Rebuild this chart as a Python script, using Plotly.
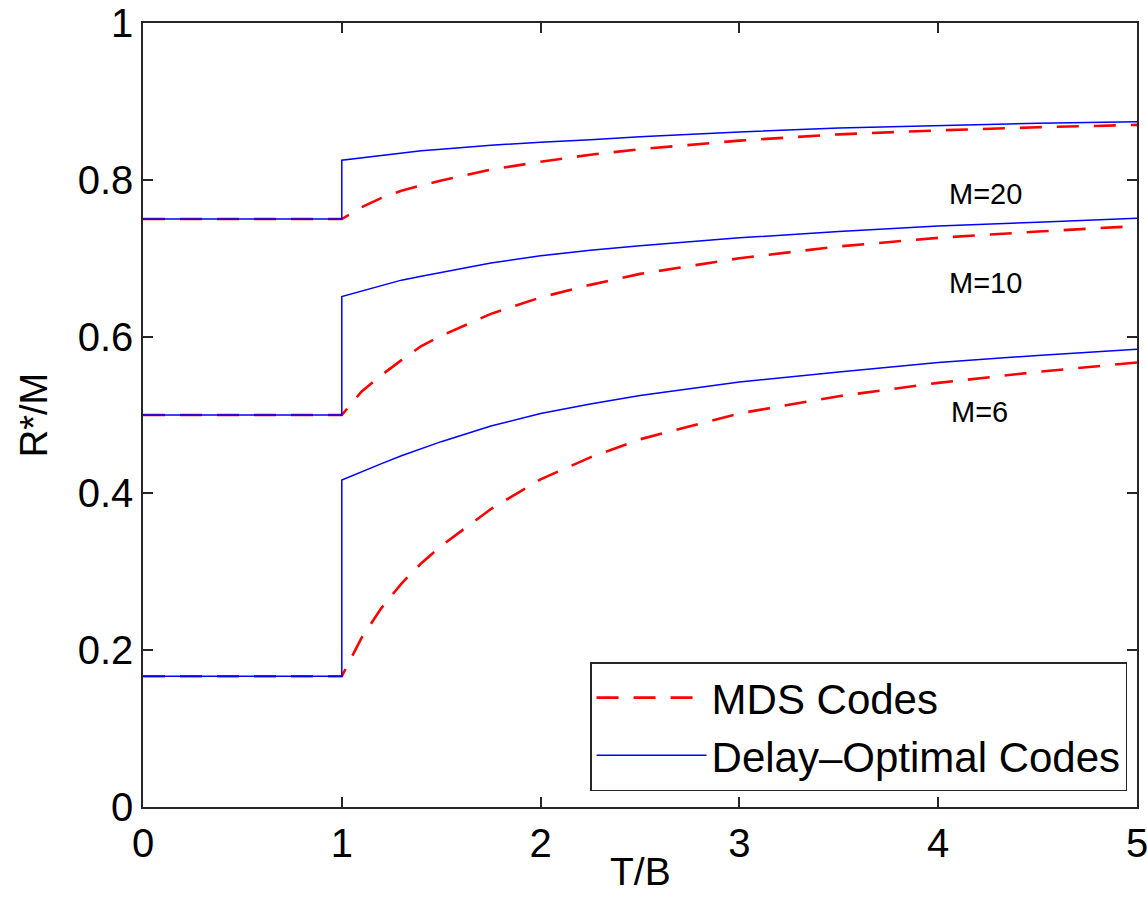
import plotly.graph_objects as go

# x grid (T/B) for the curved region, x>=1
x_curve = [1, 1.1, 1.2, 1.3, 1.4, 1.5, 1.75, 2, 2.25, 2.5, 3, 3.5, 4, 4.5, 5]
x_flat = [0, 1]

# flat values for T/B < 1
flat_m20 = 0.75
flat_m10 = 0.5
flat_m6 = 0.1667

# MDS codes
mds_m20 = [0.750, 0.765, 0.777, 0.786, 0.793, 0.799, 0.813, 0.823, 0.832, 0.839, 0.850, 0.858, 0.863, 0.867, 0.870]
mds_m10 = [0.500, 0.530, 0.551, 0.570, 0.588, 0.601, 0.629, 0.650, 0.666, 0.680, 0.700, 0.715, 0.726, 0.734, 0.741]
mds_m6 = [0.167, 0.216, 0.254, 0.285, 0.311, 0.333, 0.380, 0.418, 0.446, 0.469, 0.502, 0.524, 0.541, 0.555, 0.567]

# Delay-optimal codes
opt_m20 = [0.825, 0.828, 0.831, 0.834, 0.837, 0.839, 0.844, 0.848, 0.851, 0.855, 0.861, 0.866, 0.869, 0.872, 0.874]
opt_m10 = [0.651, 0.658, 0.665, 0.672, 0.677, 0.682, 0.694, 0.703, 0.710, 0.716, 0.726, 0.734, 0.741, 0.746, 0.751]
opt_m6 = [0.417, 0.428, 0.438, 0.448, 0.457, 0.466, 0.486, 0.502, 0.514, 0.525, 0.542, 0.555, 0.567, 0.576, 0.584]

labels = ["M=20", "M=10", "M=6"]
label_x = [4.24, 4.24, 4.21]
label_y = [0.782, 0.668, 0.504]

FONT = "Liberation Sans, Arial, Helvetica, sans-serif"
RED = "#ff0000"
BLUE = "#0000ff"

fig = go.Figure()

flats = [flat_m20, flat_m10, flat_m6]
mds = [mds_m20, mds_m10, mds_m6]
opt = [opt_m20, opt_m10, opt_m6]

for i, (f, m) in enumerate(zip(flats, mds)):
    fig.add_trace(go.Scatter(
        x=x_flat + x_curve[1:], y=[f, f] + m[1:],
        mode="lines", name="MDS Codes", legendgroup="mds",
        showlegend=(i == 0),
        line=dict(color=RED, width=2.6, dash="22px,15px"),
    ))

for i, (f, o) in enumerate(zip(flats, opt)):
    fig.add_trace(go.Scatter(
        x=x_flat + x_curve, y=[f, f] + o,
        mode="lines", name="Delay\u2013Optimal Codes", legendgroup="opt",
        showlegend=(i == 0),
        line=dict(color=BLUE, width=1.5),
    ))

for t, lx, ly in zip(labels, label_x, label_y):
    fig.add_annotation(x=lx, y=ly, text=t, showarrow=False,
                       font=dict(family=FONT, size=29, color="black"))

# x-axis title placed just under the tick labels
fig.add_annotation(x=0.5, xref="paper", y=0, yref="paper", yanchor="middle",
                   yshift=-64, text="T/B", showarrow=False,
                   font=dict(family=FONT, size=39, color="black"))

axis_common = dict(
    showline=True, linecolor="#262626", linewidth=1.5, mirror="ticks",
    ticks="inside", ticklen=10, tickwidth=1.5, tickcolor="#262626",
    showgrid=False, zeroline=False, automargin=False,
    ticklabeloverflow="allow",
    tickfont=dict(family=FONT, size=40, color="black"),
)

fig.update_layout(
    width=1147, height=905,
    margin=dict(l=143, r=10, t=23, b=98),
    paper_bgcolor="white", plot_bgcolor="white",
    font=dict(family=FONT, color="black"),
    xaxis=dict(range=[0, 5], tickvals=[0, 1, 2, 3, 4, 5], **axis_common),
    yaxis=dict(range=[0, 1], tickvals=[0, 0.2, 0.4, 0.6, 0.8, 1],
               ticktext=["0", "0.2", "0.4", "0.6", "0.8", "1"],
               title=dict(text="R*/M", font=dict(family=FONT, size=38), standoff=18),
               **axis_common),
    legend=dict(
        x=0.99, y=0.02, xanchor="right", yanchor="bottom",
        bgcolor="white", bordercolor="#262626", borderwidth=1.5,
        font=dict(family=FONT, size=42, color="black"),
        itemwidth=110, tracegroupgap=0,
    ),
    showlegend=True,
)

fig.write_html("out.html", config={"displayModeBar": False},
               post_script="document.body.style.margin='0';document.body.style.overflow='hidden';")
